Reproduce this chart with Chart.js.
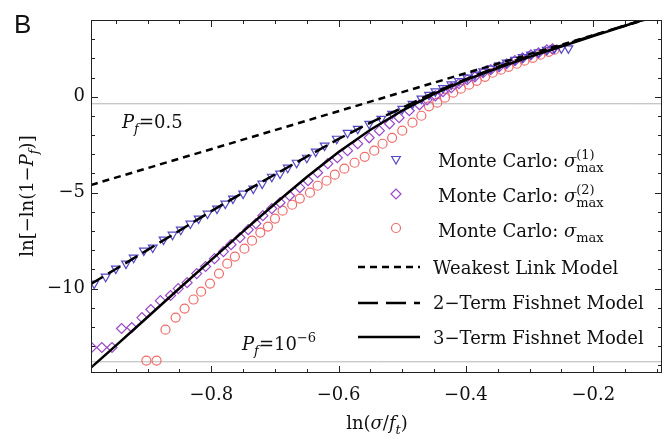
<!DOCTYPE html>
<html>
<head>
<meta charset="utf-8">
<script src="https://cdn.jsdelivr.net/npm/chart.js@4.4.1/dist/chart.umd.min.js"></script>
<style>
html, body { margin: 0; padding: 0; background: #fff; }
canvas { display: block; }
</style>
</head>
<body>
<canvas id="weibull-chart" width="671" height="437"></canvas>
<script>
// 軸範圍與刻度
const xRange = [-0.989, -0.092];
const yRange = [-14.4, 4.0];
const xMajorTicks = [-0.8, -0.6, -0.4, -0.2];
const xMinorTicks = [-0.95, -0.9, -0.85, -0.75, -0.7, -0.65, -0.55, -0.5, -0.45, -0.35, -0.3, -0.25, -0.15, -0.1];
const yMajorTicks = [-10, -5, 0];
const yMinorTicks = [-14, -13, -12, -11, -9, -8, -7, -6, -4, -3, -2, -1, 1, 2, 3];

// 參考線 Pf = 0.5 與 Pf = 1e-6
const pfLevelY = [-0.3665, -13.8155];

// Monte Carlo: sigma_max^(1)
const triX = [-0.984, -0.966, -0.950, -0.934, -0.922, -0.906, -0.892, -0.875, -0.861, -0.848,
  -0.833, -0.820, -0.806, -0.791, -0.778, -0.766, -0.750, -0.734, -0.720, -0.705,
  -0.692, -0.680, -0.666, -0.650, -0.636, -0.622, -0.603, -0.586, -0.570, -0.552,
  -0.533, -0.516, -0.500, -0.484, -0.470, -0.458, -0.448, -0.436, -0.423, -0.411,
  -0.398, -0.386, -0.373, -0.361, -0.348, -0.336, -0.323, -0.311, -0.298, -0.286,
  -0.273, -0.261, -0.250, -0.239];
const triY = [-9.74, -9.38, -8.96, -8.70, -8.39, -8.02, -7.86, -7.45, -7.19, -6.93,
  -6.61, -6.35, -6.09, -5.83, -5.57, -5.31, -5.05, -4.79, -4.53, -4.17,
  -4.01, -3.70, -3.44, -3.18, -2.86, -2.55, -2.19, -1.88, -1.67, -1.41,
  -1.15, -0.89, -0.63, -0.37, -0.10, 0.10, 0.28, 0.45, 0.64, 0.82,
  1.00, 1.15, 1.32, 1.47, 1.63, 1.78, 1.92, 2.06, 2.20, 2.32,
  2.45, 2.52, 2.52, 2.52];

// Monte Carlo: sigma_max^(2)
const diaX = [-0.988, -0.972, -0.956, -0.941, -0.925, -0.909, -0.895, -0.880, -0.864, -0.852,
  -0.838, -0.823, -0.809, -0.795, -0.781, -0.769, -0.755, -0.742, -0.730, -0.719,
  -0.705, -0.692, -0.677, -0.661, -0.648, -0.633, -0.617, -0.602, -0.586, -0.570,
  -0.552, -0.536, -0.520, -0.505, -0.489, -0.473, -0.461, -0.448, -0.436, -0.423,
  -0.411, -0.398, -0.386, -0.373, -0.361, -0.348, -0.336, -0.323, -0.311, -0.298,
  -0.286, -0.273, -0.264];
const diaY = [-13.07, -13.07, -13.07, -12.08, -12.03, -11.51, -11.09, -10.63, -10.36, -10.00,
  -9.69, -9.22, -8.85, -8.44, -8.07, -7.71, -7.34, -6.93, -6.61, -6.20,
  -5.83, -5.52, -5.16, -4.74, -4.38, -3.96, -3.49, -3.18, -2.81, -2.45,
  -2.14, -1.77, -1.41, -1.09, -0.73, -0.42, -0.16, 0.05, 0.26, 0.47,
  0.68, 0.89, 1.04, 1.25, 1.41, 1.56, 1.72, 1.88, 2.03, 2.19,
  2.29, 2.45, 2.50];

// Monte Carlo: sigma_max
const circX = [-0.902, -0.886, -0.872, -0.856, -0.842, -0.828, -0.816, -0.802, -0.788, -0.775,
  -0.763, -0.748, -0.736, -0.723, -0.711, -0.700, -0.688, -0.673, -0.661, -0.645,
  -0.633, -0.619, -0.606, -0.591, -0.575, -0.559, -0.544, -0.531, -0.516, -0.500,
  -0.484, -0.470, -0.458, -0.445, -0.433, -0.420, -0.408, -0.395, -0.383, -0.370,
  -0.358, -0.345, -0.333, -0.320, -0.308, -0.295, -0.283, -0.270, -0.261];
const circY = [-13.75, -13.75, -12.14, -11.51, -11.04, -10.57, -10.16, -9.74, -9.22, -8.70,
  -8.33, -7.92, -7.50, -7.08, -6.77, -6.35, -5.94, -5.63, -5.31, -5.00,
  -4.64, -4.38, -4.06, -3.75, -3.44, -3.13, -2.81, -2.45, -2.14, -1.77,
  -1.35, -0.99, -0.50, -0.31, -0.05, 0.21, 0.42, 0.63, 0.83, 1.04,
  1.25, 1.41, 1.56, 1.72, 1.88, 2.03, 2.19, 2.34, 2.45];

// 模型曲線
const wlX = [-0.989, -0.12];
const wlY = [-4.60, 4.00];
const modelX = [-0.989, -0.95, -0.9, -0.85, -0.8, -0.75, -0.7, -0.65, -0.6, -0.55,
  -0.5, -0.45, -0.4, -0.35, -0.3, -0.25, -0.2, -0.15, -0.12];
const twoTermY = [-9.76, -8.98, -7.98, -6.98, -5.96, -5.00, -4.05, -3.12, -2.20, -1.35,
  -0.58, 0.22, 0.92, 1.55, 2.13, 2.66, 3.20, 3.72, 4.02];
const threeTermY = [-14.12, -12.97, -11.48, -9.98, -8.50, -7.02, -5.58, -4.18, -2.88, -1.72,
  -0.72, 0.15, 0.88, 1.50, 2.08, 2.62, 3.16, 3.70, 4.02];

const SERIF = '"DejaVu Serif", serif';
const TRI_COLOR = '#5448c4';
const DIA_COLOR = '#9a48c8';
const CIRC_COLOR = '#f06a6a';

function pairs(xs, ys) {
    return xs.map((x, i) => ({ x: x, y: ys[i] }));
}

// 含上下標的文字
function drawRich(ctx, parts, x, y, size, align) {
    const small = Math.round(size * 0.72);
    const font = (sz, it) => (it ? 'italic ' : '') + sz + 'px ' + SERIF;
    const widthOf = p => {
        if (p.t !== undefined) {
            ctx.font = font(size, p.i);
            return ctx.measureText(p.t).width;
        }
        let w = 0;
        if (p.sub) { ctx.font = font(small, p.i); w = Math.max(w, ctx.measureText(p.sub).width); }
        if (p.sup) { ctx.font = font(small, false); w = Math.max(w, ctx.measureText(p.sup).width); }
        return w;
    };
    const total = parts.reduce((s, p) => s + widthOf(p), 0);
    let cx = align === 'center' ? x - total / 2 : x;
    ctx.textAlign = 'left';
    ctx.textBaseline = 'alphabetic';
    parts.forEach(p => {
        const w = widthOf(p);
        if (p.t !== undefined) {
            ctx.font = font(size, p.i);
            ctx.fillText(p.t, cx, y);
        } else {
            if (p.sub) { ctx.font = font(small, p.i); ctx.fillText(p.sub, cx, y + size * 0.28); }
            if (p.sup) { ctx.font = font(small, false); ctx.fillText(p.sup, cx, y - size * 0.45); }
        }
        cx += w;
    });
}

function drawMarker(ctx, style, rotation, radius, color, x, y) {
    ctx.save();
    ctx.strokeStyle = color;
    ctx.fillStyle = 'rgba(0,0,0,0)';
    ctx.lineWidth = 1.2;
    Chart.helpers.drawPoint(ctx, { pointStyle: style, rotation: rotation, radius: radius, borderWidth: 1.2 }, x, y);
    ctx.restore();
}

const legendMarkers = [
    { style: 'triangle', rot: 180, r: 5, color: TRI_COLOR, y: 159, base: 167, sup: '(1)' },
    { style: 'rectRot', rot: 0, r: 5, color: DIA_COLOR, y: 194, base: 202, sup: '(2)' },
    { style: 'circle', rot: 0, r: 4.5, color: CIRC_COLOR, y: 228, base: 237, sup: null }
];
const legendLines = [
    { dash: [7, 5], y: 267, base: 274, label: 'Weakest Link Model' },
    { dash: [20, 8], y: 303, base: 309, label: '2\u2212Term Fishnet Model' },
    { dash: [], y: 337, base: 344, label: '3\u2212Term Fishnet Model' }
];

const decorations = {
    id: 'decorations',
    afterDraw(chart) {
        const ctx = chart.ctx;
        const area = chart.chartArea;
        const xs = chart.scales.x;
        const ys = chart.scales.y;
        ctx.save();

        // 外框
        ctx.strokeStyle = '#222';
        ctx.lineWidth = 1;
        ctx.strokeRect(area.left + 0.5, area.top + 0.5, area.right - area.left - 1, area.bottom - area.top - 1);

        // 內向刻度
        ctx.beginPath();
        const tickX = (v, len) => {
            const p = Math.round(xs.getPixelForValue(v)) + 0.5;
            ctx.moveTo(p, area.bottom); ctx.lineTo(p, area.bottom - len);
            ctx.moveTo(p, area.top); ctx.lineTo(p, area.top + len);
        };
        const tickY = (v, len) => {
            const p = Math.round(ys.getPixelForValue(v)) + 0.5;
            ctx.moveTo(area.left, p); ctx.lineTo(area.left + len, p);
            ctx.moveTo(area.right, p); ctx.lineTo(area.right - len, p);
        };
        xMajorTicks.forEach(v => tickX(v, 7));
        xMinorTicks.forEach(v => tickX(v, 4));
        yMajorTicks.forEach(v => tickY(v, 7));
        yMinorTicks.forEach(v => tickY(v, 4));
        ctx.stroke();

        ctx.fillStyle = '#111';

        // 面板標記
        ctx.font = '26px "Liberation Sans", Arial, sans-serif';
        ctx.textAlign = 'left';
        ctx.textBaseline = 'alphabetic';
        ctx.fillText('B', 14, 33);

        // 軸標題
        drawRich(ctx, [{ t: 'ln(' }, { t: '\u03c3', i: true }, { t: '/' }, { t: 'f', i: true }, { sub: 't', i: true }, { t: ')' }],
            377, 429, 18, 'center');
        ctx.save();
        ctx.translate(33, 196);
        ctx.rotate(-Math.PI / 2);
        drawRich(ctx, [{ t: 'ln[\u2212ln(1\u2212' }, { t: 'P', i: true }, { sub: 'f', i: true }, { t: ')]' }],
            0, 0, 18, 'center');
        ctx.restore();

        // 參考線標註
        drawRich(ctx, [{ t: 'P', i: true }, { sub: 'f', i: true }, { t: '=0.5' }], 122, 128, 18, 'left');
        drawRich(ctx, [{ t: 'P', i: true }, { sub: 'f', i: true }, { t: '=10' }, { sup: '\u22126' }], 242, 350, 18, 'left');

        // 圖例
        legendMarkers.forEach(m => {
            drawMarker(ctx, m.style, m.rot, m.r, m.color, 396, m.y);
            ctx.fillStyle = '#111';
            const parts = [{ t: 'Monte Carlo: ' }, { t: '\u03c3', i: true }];
            parts.push(m.sup ? { sub: 'max', sup: m.sup } : { sub: 'max' });
            drawRich(ctx, parts, 438, m.base, 18, 'left');
        });
        legendLines.forEach(l => {
            ctx.save();
            ctx.strokeStyle = '#000';
            ctx.lineWidth = 2.5;
            ctx.setLineDash(l.dash);
            ctx.beginPath();
            ctx.moveTo(358, l.y);
            ctx.lineTo(420, l.y);
            ctx.stroke();
            ctx.restore();
            ctx.fillStyle = '#111';
            drawRich(ctx, [{ t: l.label }], 433, l.base, 18, 'left');
        });

        ctx.restore();
    }
};

const lineBase = { showLine: true, pointRadius: 0, borderColor: '#000', borderWidth: 2.5, fill: false };
const markerBase = { showLine: false, backgroundColor: 'rgba(0,0,0,0)', pointBorderWidth: 1.2, pointHoverRadius: 0 };

const datasets = [
    Object.assign({ label: '3-Term Fishnet Model', data: pairs(modelX, threeTermY) }, lineBase),
    Object.assign({ label: '2-Term Fishnet Model', data: pairs(modelX, twoTermY), borderDash: [14, 6] }, lineBase),
    Object.assign({ label: 'Weakest Link Model', data: pairs(wlX, wlY), borderDash: [7, 5] }, lineBase),
    Object.assign({ label: 'MC sigma1', data: pairs(triX, triY), pointStyle: 'triangle', pointRotation: 180,
        pointRadius: 5, borderColor: TRI_COLOR, pointBorderColor: TRI_COLOR }, markerBase),
    Object.assign({ label: 'MC sigma2', data: pairs(diaX, diaY), pointStyle: 'rectRot',
        pointRadius: 5, borderColor: DIA_COLOR, pointBorderColor: DIA_COLOR }, markerBase),
    Object.assign({ label: 'MC sigma', data: pairs(circX, circY), pointStyle: 'circle',
        pointRadius: 4.5, borderColor: CIRC_COLOR, pointBorderColor: CIRC_COLOR }, markerBase)
];
pfLevelY.forEach(v => {
    datasets.push({ label: 'level', data: pairs(xRange, [v, v]), showLine: true, pointRadius: 0,
        borderColor: '#b4b4b4', borderWidth: 1, fill: false });
});

new Chart(document.getElementById('weibull-chart'), {
    type: 'scatter',
    data: { datasets: datasets },
    options: {
        responsive: false,
        animation: false,
        devicePixelRatio: 1,
        layout: { padding: { top: 20, right: 9, left: 0, bottom: 0 } },
        plugins: { legend: { display: false }, tooltip: { enabled: false } },
        events: [],
        scales: {
            x: {
                type: 'linear',
                min: xRange[0],
                max: xRange[1],
                grid: { display: false, drawTicks: false },
                border: { display: false },
                afterBuildTicks: scale => { scale.ticks = xMajorTicks.map(v => ({ value: v })); },
                afterFit: scale => { scale.height = 64; },
                ticks: {
                    autoSkip: false,
                    maxRotation: 0,
                    padding: 12,
                    color: '#111',
                    font: { family: SERIF, size: 18 },
                    callback: v => (v < 0 ? '\u2212' : '') + Math.abs(v)
                }
            },
            y: {
                type: 'linear',
                min: yRange[0],
                max: yRange[1],
                grid: { display: false, drawTicks: false },
                border: { display: false },
                afterBuildTicks: scale => { scale.ticks = yMajorTicks.map(v => ({ value: v })); },
                afterFit: scale => { scale.width = 91; },
                ticks: {
                    autoSkip: false,
                    padding: 6,
                    color: '#111',
                    font: { family: SERIF, size: 18 },
                    callback: v => (v < 0 ? '\u2212' : '') + Math.abs(v)
                }
            }
        }
    },
    plugins: [decorations]
});
</script>
</body>
</html>
